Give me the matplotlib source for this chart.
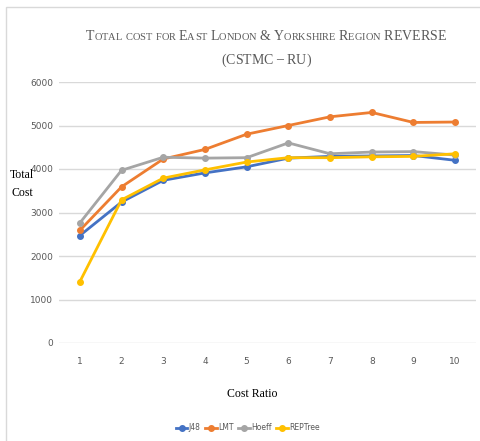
import matplotlib
matplotlib.use("Agg")
import matplotlib.pyplot as plt
from matplotlib.offsetbox import TextArea, HPacker, AnchoredOffsetbox
from matplotlib.patches import Rectangle

ratios = [1, 2, 3, 4, 5, 6, 7, 8, 9, 10]
j48 = [2470, 3240, 3740, 3910, 4050, 4250, 4290, 4300, 4310, 4200]
lmt = [2590, 3590, 4230, 4450, 4800, 5000, 5200, 5300, 5070, 5080]
hoeff = [2760, 3970, 4270, 4250, 4260, 4600, 4350, 4390, 4400, 4320]
reptree = [1410, 3290, 3790, 3980, 4160, 4260, 4260, 4280, 4290, 4350]
names = ["J48", "LMT", "Hoeff", "REPTree"]
colors = ["#4472C4", "#ED7D31", "#A5A5A5", "#FFC000"]

narrow = ["Liberation Sans Narrow", "DejaVu Sans"]
serif = ["Liberation Serif", "DejaVu Serif"]

fig = plt.figure(figsize=(4.8, 4.41), dpi=100)
ax = fig.add_axes([59 / 480, 98 / 441, 417 / 480, 261 / 441])

for vals, name, c in zip([j48, lmt, hoeff, reptree], names, colors):
    ax.plot(ratios, vals, color=c, lw=2, marker="o", ms=4, label=name)

ax.set_xlim(0.5, 10.5)
ax.set_ylim(0, 6000)
ax.set_yticks(range(0, 6001, 1000))
ax.set_xticks(ratios)
ax.grid(axis="y", color="#d9d9d9", lw=1)
ax.set_axisbelow(True)
for s in ax.spines.values():
    s.set_visible(False)
ax.tick_params(length=0, colors="#595959", labelsize=6.5, pad=4)
ax.tick_params(axis="x", pad=10)
for lab in ax.get_xticklabels() + ax.get_yticklabels():
    lab.set_family(narrow)

fig.text(252 / 480, 1 - 394 / 441, "Cost Ratio", ha="center", va="center",
         family=serif, fontsize=8.5)
fig.text(22 / 480, 1 - 184 / 441, "Total\nCost", ha="center", va="center",
         family=serif, fontsize=8.5, linespacing=1.6)

leg = fig.legend(loc="center", bbox_to_anchor=(248 / 480, 1 - 428 / 441), ncol=4,
                 frameon=False, handlelength=1.5, handletextpad=0.2, columnspacing=0.6,
                 prop={"family": narrow, "size": 5.5})
for t in leg.get_texts():
    t.set_color("#595959")


def small_caps(text, big, small, color):
    parts = []
    for ch in text:
        if ch.islower():
            parts.append(TextArea(ch.upper(), textprops=dict(family=serif, size=small, color=color)))
        else:
            parts.append(TextArea(ch, textprops=dict(family=serif, size=big, color=color)))
    return HPacker(children=parts, align="baseline", pad=0, sep=0)


tcol = "#595959"
line1 = small_caps("Total cost for East London & Yorkshire Region REVERSE", 10, 7.5, tcol)
line2 = small_caps("(CSTMC \u2013 RU)", 10, 7.5, tcol)
for box, y in [(line1, 36), (line2, 60)]:
    anch = AnchoredOffsetbox(loc="center", child=box, pad=0, frameon=False,
                             bbox_to_anchor=(266 / 480, 1 - y / 441),
                             bbox_transform=fig.transFigure, borderpad=0)
    fig.add_artist(anch)

fig.add_artist(Rectangle((6 / 480, -0.1), 1.2, 1 - 7 / 441 + 0.1, transform=fig.transFigure,
                         fill=False, edgecolor="#d9d9d9", lw=1))

fig.savefig("out.png", dpi=100)
